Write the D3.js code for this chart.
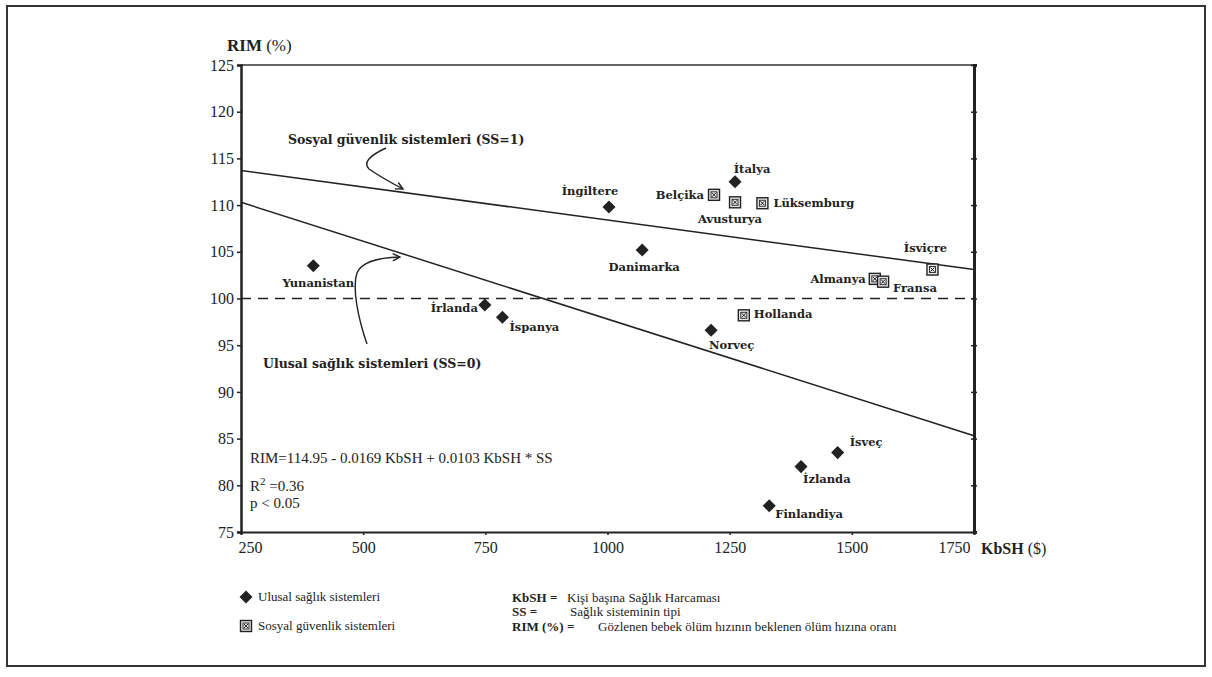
<!DOCTYPE html>
<html>
<head>
<meta charset="utf-8">
<script src="https://cdn.jsdelivr.net/npm/d3@7"></script>
<style>
  body { margin: 0; background: #fff; }
  svg text { fill: #222; }
</style>
</head>
<body>
<svg id="chart" width="1212" height="677"></svg>
<script>
// axis ticks
const xTicks = [250, 500, 750, 1000, 1250, 1500, 1750];
const yTicks = [75, 80, 85, 90, 95, 100, 105, 110, 115, 120, 125];

// Ulusal sağlık sistemleri (SS=0)
const ulusalNames = ['Yunanistan', 'İrlanda', 'İspanya', 'İngiltere', 'Danimarka', 'İtalya', 'Norveç', 'İsveç', 'İzlanda', 'Finlandiya'];
const ulusalKbsh  = [398, 749, 785, 1003, 1071, 1261, 1212, 1471, 1396, 1331];
const ulusalRim   = [103.5, 99.3, 98.0, 109.8, 105.2, 112.5, 96.6, 83.5, 82.0, 77.8];

// Sosyal güvenlik sistemleri (SS=1)
const sosyalNames = ['Belçika', 'Avusturya', 'Lüksemburg', 'İsviçre', 'Almanya', 'Fransa', 'Hollanda'];
const sosyalKbsh  = [1218, 1261, 1317, 1665, 1547, 1564, 1279];
const sosyalRim   = [111.1, 110.3, 110.2, 103.1, 102.1, 101.8, 98.2];

// regression lines, read at both ends of the x range
const lineKbsh      = [250, 1750];
const sosyalLineRim = [113.7, 103.1];
const ulusalLineRim = [110.3, 85.3];
const refRim = 100;

// label placement next to each point: [dx, dy, anchor]
const labelPos = {
  'Yunanistan': [5, 17, 'middle'],
  'İrlanda':    [-7, 3, 'end'],
  'İspanya':    [7, 10, 'start'],
  'İngiltere':  [-19, -16, 'middle'],
  'Danimarka':  [2, 17, 'middle'],
  'İtalya':     [17, -13, 'middle'],
  'Norveç':     [-2, 15, 'start'],
  'İsveç':      [12, -11, 'start'],
  'İzlanda':    [2, 12, 'start'],
  'Finlandiya': [6, 8, 'start'],
  'Belçika':    [-10, 0, 'end'],
  'Avusturya':  [-5, 17, 'middle'],
  'Lüksemburg': [11, 0, 'start'],
  'İsviçre':    [-7, -22, 'middle'],
  'Almanya':    [-9, 0, 'end'],
  'Fransa':     [10, 6, 'start'],
  'Hollanda':   [10, -1, 'start']
};

const serif = '"Liberation Serif", "Times New Roman", serif';
const heavy = '"DejaVu Serif", serif';
const ink = '#222';

const svg = d3.select('#chart');

// outer frame
svg.append('rect')
  .attr('x', 7).attr('y', 6).attr('width', 1198).attr('height', 660)
  .attr('fill', 'none').attr('stroke', '#333').attr('stroke-width', 2);

const x = d3.scaleLinear().domain([250, 1750]).range([241, 974]);
const y = d3.scaleLinear().domain([75, 125]).range([532, 65]);

const defs = svg.append('defs');
defs.append('marker')
  .attr('id', 'arrow')
  .attr('viewBox', '0 0 10 10')
  .attr('refX', 9).attr('refY', 5)
  .attr('markerWidth', 9).attr('markerHeight', 9)
  .attr('markerUnits', 'userSpaceOnUse')
  .attr('orient', 'auto')
  .append('path')
  .attr('d', 'M1,1 L9,5 L1,9')
  .attr('fill', 'none').attr('stroke', ink).attr('stroke-width', 1.6);

// top border of plot
svg.append('line')
  .attr('x1', x(250)).attr('x2', x(1750))
  .attr('y1', y(125)).attr('y2', y(125))
  .attr('stroke', '#333').attr('stroke-width', 1.5);

// y axis (left)
const yAxis = svg.append('g')
  .attr('transform', `translate(${x(250)},0)`)
  .call(d3.axisLeft(y).tickValues(yTicks).tickSize(4).tickPadding(3));
yAxis.select('.domain').attr('stroke', ink).attr('stroke-width', 2.5);
yAxis.selectAll('.tick line').attr('stroke', ink).attr('stroke-width', 1.5);
yAxis.selectAll('text').style('font-family', serif).style('font-size', '16px').attr('fill', ink);

// right axis, ticks only
const rAxis = svg.append('g')
  .attr('transform', `translate(${x(1750)},0)`)
  .call(d3.axisRight(y).tickValues(yTicks).tickSize(3).tickFormat(''));
rAxis.select('.domain').attr('stroke', ink).attr('stroke-width', 3);
rAxis.selectAll('.tick line').attr('stroke', ink).attr('stroke-width', 1.5).attr('x1', -3);

// x axis
const xAxis = svg.append('g')
  .attr('transform', `translate(0,${y(75)})`)
  .call(d3.axisBottom(x).tickValues(xTicks).tickFormat(d3.format('d')).tickSize(3).tickPadding(7));
xAxis.select('.domain').attr('stroke', ink).attr('stroke-width', 2);
xAxis.selectAll('.tick line').attr('stroke', ink).attr('stroke-width', 1.5);
xAxis.selectAll('text').style('font-family', serif).style('font-size', '16px').attr('fill', ink);
xAxis.selectAll('.tick text').filter(d => d === 250).attr('text-anchor', 'start').attr('x', -3);
xAxis.selectAll('.tick text').filter(d => d === 1750).attr('text-anchor', 'end').attr('x', -4);

// axis titles
svg.append('text')
  .attr('x', 227).attr('y', 51)
  .style('font-family', serif).style('font-size', '17px')
  .call(t => {
    t.append('tspan').attr('font-weight', 'bold').text('RIM');
    t.append('tspan').text(' (%)');
  });
svg.append('text')
  .attr('x', 981).attr('y', 554)
  .style('font-family', serif).style('font-size', '16px')
  .call(t => {
    t.append('tspan').attr('font-weight', 'bold').text('KbSH');
    t.append('tspan').text(' ($)');
  });

// reference line at 100
svg.append('line')
  .attr('x1', x(250)).attr('x2', x(1750))
  .attr('y1', y(refRim)).attr('y2', y(refRim))
  .attr('stroke', ink).attr('stroke-width', 1.3)
  .attr('stroke-dasharray', '10,7');

// regression lines
const line = d3.line().x(d => x(d[0])).y(d => y(d[1]));
[sosyalLineRim, ulusalLineRim].forEach(r => {
  svg.append('path')
    .datum(lineKbsh.map((k, i) => [k, r[i]]))
    .attr('d', line)
    .attr('fill', 'none').attr('stroke', ink).attr('stroke-width', 1.5);
});

// annotations with arrows
svg.append('text')
  .attr('x', 288).attr('y', 144)
  .style('font-family', heavy).style('font-size', '12.5px').style('font-weight', 'bold')
  .text('Sosyal güvenlik sistemleri (SS=1)');
svg.append('path')
  .attr('d', 'M386,148 Q360,160 369,169 Q382,178 403,189')
  .attr('fill', 'none').attr('stroke', ink).attr('stroke-width', 1.4)
  .attr('marker-end', 'url(#arrow)');

svg.append('text')
  .attr('x', 263).attr('y', 368)
  .style('font-family', heavy).style('font-size', '12.5px').style('font-weight', 'bold')
  .text('Ulusal sağlık sistemleri (SS=0)');
svg.append('path')
  .attr('d', 'M367,344 C358,318 352,288 357,273 Q363,258 400,257')
  .attr('fill', 'none').attr('stroke', ink).attr('stroke-width', 1.4)
  .attr('marker-end', 'url(#arrow)');

// equation
const eq = svg.append('g').style('font-family', serif).style('font-size', '15px');
eq.append('text').attr('x', 250).attr('y', 463).text('RIM=114.95 - 0.0169 KbSH + 0.0103 KbSH * SS');
eq.append('text').attr('x', 250).attr('y', 491)
  .call(t => {
    t.append('tspan').text('R');
    t.append('tspan').attr('dy', -6).style('font-size', '11px').text('2');
    t.append('tspan').attr('dy', 6).text(' =0.36');
  });
eq.append('text').attr('x', 250).attr('y', 508).text('p < 0.05');

// markers
const diamond = d3.symbol(d3.symbolSquare, 85);

function drawDiamond(g) {
  g.append('path').attr('d', diamond).attr('transform', 'rotate(45)').attr('fill', '#222');
}
function drawBox(g) {
  g.append('rect').attr('x', -5.5).attr('y', -5.5).attr('width', 11).attr('height', 11)
    .attr('fill', '#e6e6e6').attr('stroke', '#222').attr('stroke-width', 1.4);
  g.append('rect').attr('x', -3).attr('y', -3).attr('width', 6).attr('height', 6)
    .attr('fill', 'none').attr('stroke', '#222').attr('stroke-width', 0.9);
  g.append('path').attr('d', 'M-2,-2L2,2M2,-2L-2,2').attr('stroke', '#222').attr('stroke-width', 1);
}

const ulusal = ulusalNames.map((n, i) => ({ name: n, kbsh: ulusalKbsh[i], rim: ulusalRim[i] }));
const sosyal = sosyalNames.map((n, i) => ({ name: n, kbsh: sosyalKbsh[i], rim: sosyalRim[i] }));

svg.selectAll('.ulusal').data(ulusal).enter().append('g')
  .attr('class', 'ulusal')
  .attr('transform', d => `translate(${x(d.kbsh)},${y(d.rim)})`)
  .each(function() { drawDiamond(d3.select(this)); });

svg.selectAll('.sosyal').data(sosyal).enter().append('g')
  .attr('class', 'sosyal')
  .attr('transform', d => `translate(${x(d.kbsh)},${y(d.rim)})`)
  .each(function() { drawBox(d3.select(this)); });

svg.selectAll('.plabel').data(ulusal.concat(sosyal)).enter().append('text')
  .attr('class', 'plabel')
  .attr('x', d => x(d.kbsh) + labelPos[d.name][0])
  .attr('y', d => y(d.rim) + labelPos[d.name][1])
  .attr('dy', '0.35em')
  .attr('text-anchor', d => labelPos[d.name][2])
  .style('font-family', heavy).style('font-size', '11.5px').style('font-weight', 'bold')
  .text(d => d.name);

// legend
const leg = svg.append('g').style('font-family', serif).style('font-size', '13px');
drawDiamond(leg.append('g').attr('transform', 'translate(246,597)'));
leg.append('text').attr('x', 258).attr('y', 601).text('Ulusal sağlık sistemleri');
drawBox(leg.append('g').attr('transform', 'translate(246,626)'));
leg.append('text').attr('x', 258).attr('y', 630).text('Sosyal güvenlik sistemleri');

const defsText = [
  ['KbSH', ' =', 'Kişi başına Sağlık Harcaması', 602, 567],
  ['SS', ' =', 'Sağlık sisteminin tipi', 616, 570],
  ['RIM (%)', ' =', 'Gözlenen bebek ölüm hızının beklenen ölüm hızına oranı', 631, 598]
];
defsText.forEach(d => {
  const t = leg.append('text').attr('x', 512).attr('y', d[3]);
  t.append('tspan').style('font-weight', 'bold').text(d[0] + d[1]);
  t.append('tspan').attr('x', d[4]).text(d[2]);
});
</script>
</body>
</html>
